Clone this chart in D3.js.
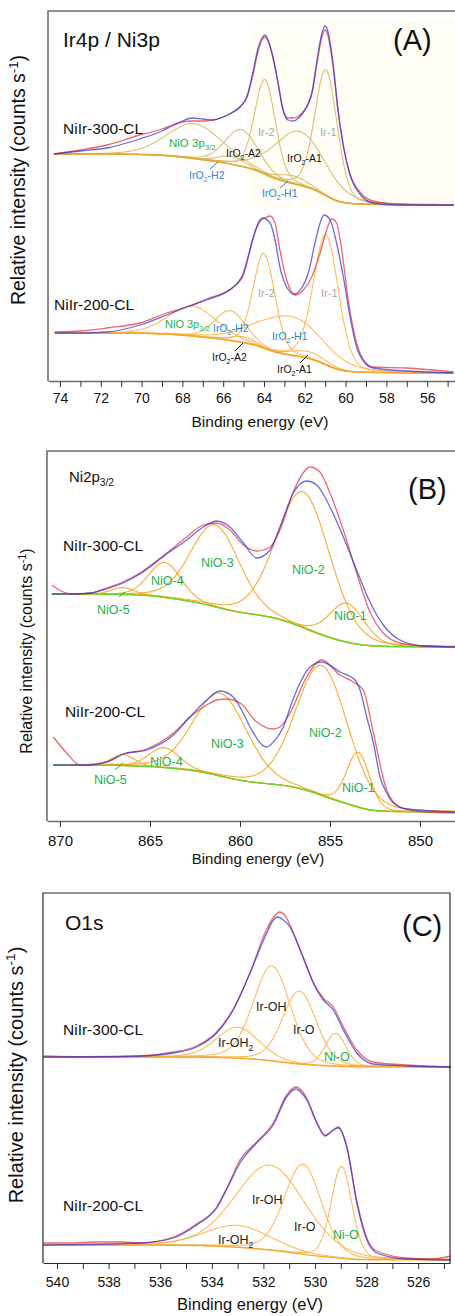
<!DOCTYPE html>
<html><head><meta charset="utf-8">
<script src="https://cdn.jsdelivr.net/npm/d3@7"></script>
<style>
html,body{margin:0;padding:0;background:#fff;}
svg{display:block;font-family:Arial,"Liberation Sans",Helvetica,sans-serif;}
</style></head><body>
<svg id="chart" width="455" height="1316"></svg>
<script>
// ===== Panel A: Ir4p / Ni3p =====
const ticksA = d3.range(55, 75);
const labelsA = [74, 72, 70, 68, 66, 64, 62, 60, 58, 56];
// [binding energy (eV), relative intensity]
const measA300 = [[74.3,227],[73.0,231],[71.7,236],[70.1,246],[69.0,252],[68.5,256],[68.0,259],[67.5,260],[67.0,260],[66.5,261],[66.0,264],[65.6,268],[65.18,274],[64.83,284],[64.54,306],[64.3,329],[64.1,341],[63.95,344],[63.78,339],[63.56,323],[63.31,298],[63.07,272],[62.82,263],[62.57,263],[62.3,265],[62.09,269],[61.85,277],[61.65,288],[61.4,318],[61.16,344],[61.0,351],[60.86,345],[60.6,312],[60.37,270],[60.13,238],[59.8,208],[59.3,189],[58.66,180],[57.5,177],[56,176],[54.7,176]];
const fitA300 = [[74.3,227],[73.0,230],[71.7,233],[70.1,242],[69.0,250],[68.5,255],[68.0,260],[67.5,263],[67.0,262],[66.5,261],[66.0,264],[65.6,268],[65.18,274],[64.83,285],[64.54,309],[64.3,332],[64.1,343],[63.95,346],[63.78,340],[63.56,324],[63.31,298],[63.07,271],[62.82,261],[62.57,260],[62.3,263],[62.09,268],[61.85,276],[61.65,288],[61.4,321],[61.16,348],[61.0,355],[60.86,349],[60.6,315],[60.37,271],[60.13,237],[59.8,207],[59.3,187],[58.66,178],[57.5,176],[56,176],[54.7,176]];
// [name, centre (eV), height, FWHM (eV)]
const peaksA300 = [["Ir-1",60.96,126,1.3],["Ir-2",63.95,95,1.2],["IrO2-A1",62.25,54,3.0],["IrO2-A2",65.1,37,1.9],["NiO 3p3/2",67.4,35,3.2],["IrO2-H2",65.6,8,1.6],["IrO2-H1",62.6,8,1.8]];
const bgA300 = [227, 176];

const measA200 = [[74.25,49],[73.0,50],[71.71,53],[70.08,58],[68.77,68],[67.79,74],[66.81,82],[65.5,94],[65.01,106],[64.52,144],[64.2,160],[63.95,163],[63.7,165],[63.46,158],[63.22,131],[62.89,101],[62.48,86],[62.07,91],[61.66,104],[61.25,128],[60.93,151],[60.68,162],[60.44,158],[60.19,131],[59.87,81],[59.46,38],[59.05,19],[58.64,14],[57.0,13],[54.72,9]];
const fitA200 = [[74.25,48],[73.0,48],[71.71,49],[70.08,56],[68.77,66],[67.79,74],[66.81,81],[65.5,94],[65.01,108],[64.69,131],[64.36,154],[64.07,163],[63.7,158],[63.46,141],[63.22,114],[62.89,94],[62.53,87],[62.15,93],[61.83,108],[61.5,138],[61.25,158],[61.06,166],[60.76,161],[60.44,138],[60.11,104],[59.78,64],[59.46,34],[59.05,18],[58.64,13],[57.0,10],[54.72,8]];
const peaksA200 = [["Ir-1",60.96,130,1.45],["Ir-2",64.0,95,1.25],["NiO 3p3/2",67.5,30,2.8],["IrO2-H2",65.65,30,1.8],["IrO2-H1",62.75,39,3.8],["IrO2-A2",65.0,6,1.5],["IrO2-A1",61.8,7,2.0]];
const bgA200 = [48, 8];

// ===== Panel B: Ni2p3/2 =====
const ticksB = [870, 865, 860, 855, 850];
const measB300 = [[870.46,236],[869.81,229],[869.26,227],[868.3,228],[867.41,233],[866.5,239],[865.56,248],[864.07,268],[862.96,284],[862.04,296],[861.3,298],[860.56,291],[859.81,276],[859.07,270],[858.33,274],[857.78,291],[857.04,329],[856.5,348],[856.11,354],[855.56,349],[855.0,328],[854.26,291],[853.52,248],[852.78,209],[852.04,188],[851.11,178],[849.81,175],[848.06,174]];
const fitB300 = [[870.44,227],[869.26,227],[868.3,228],[867.41,232],[866.5,238],[865.56,247],[864.07,267],[862.96,281],[862.04,294],[861.3,300],[860.56,294],[859.81,278],[859.07,263],[858.33,271],[857.78,294],[857.04,328],[856.3,340],[855.74,336],[855.0,314],[854.26,284],[853.52,251],[852.78,219],[852.04,196],[851.11,181],[849.81,175],[848.06,174]];
const peaksB300 = [["NiO-1",854.05,39,2.3],["NiO-2",856.48,136,3.5],["NiO-3",861.39,82,3.2],["NiO-4",864.17,35,2.1],["NiO-5",866.5,7,1.5]];
const bgB300 = [227, 174];

const measB200 = [[870.37,84],[869.63,68],[868.89,56],[867.41,59],[866.48,67],[865.19,72],[863.7,88],[862.78,104],[861.85,116],[861.3,121],[860.74,122],[860.0,118],[859.07,99],[858.15,92],[857.78,94],[857.22,108],[856.3,144],[855.46,161],[854.44,146],[853.7,139],[853.15,131],[852.59,88],[851.85,31],[851.11,14],[849.81,9],[848.06,8]];
const fitB200 = [[870.37,56],[868.33,56],[867.4,59],[866.48,67],[865.19,71],[863.7,86],[862.78,104],[861.85,121],[861.11,130],[860.37,124],[859.91,111],[859.44,94],[858.52,74],[858.15,79],[857.59,94],[857.13,118],[856.67,138],[856.11,154],[855.46,159],[854.44,149],[853.61,141],[853.33,131],[852.96,104],[852.59,78],[852.22,44],[851.85,28],[851.48,18],[850.74,12],[848.06,9]];
const peaksB200 = [["NiO-1",853.43,55,1.5],["NiO-2",855.45,130,3.4],["NiO-3",861.1,83,3.5],["NiO-4",864.2,20,2.0],["NiO-5",866.5,11,1.5]];
const bgB200 = [56, 9];

// ===== Panel C: O1s =====
const ticksC = d3.range(525, 541);
const labelsC = [540, 538, 536, 534, 532, 530, 528, 526];
const measC300 = [[540.53,207],[538.5,206],[536.78,207],[535.49,211],[534.59,217],[533.81,231],[533.17,254],[532.52,290],[531.87,334],[531.6,346],[531.36,351],[531.1,345],[530.97,338],[530.58,314],[530.32,297],[530.07,281],[529.68,265],[529.29,256],[528.9,236],[528.38,213],[527.74,201],[526.45,198],[524.73,196]];
const fitC300 = [[540.53,206],[536.78,207],[535.49,210],[534.59,216],[533.81,230],[533.17,253],[532.52,290],[531.87,330],[531.61,343],[531.46,346],[531.23,343],[530.97,336],[530.58,313],[530.32,296],[530.07,280],[529.68,263],[529.29,253],[528.9,233],[528.38,210],[527.74,199],[526.45,197],[524.73,196]];
const peaksC300 = [["Ir-OH",531.67,95,1.7],["Ir-O",530.6,73,1.55],["Ir-OH2",533.0,31,1.95],["Ni-O",529.2,33,0.95]];
const bgC300 = [206, 196];

const measC200 = [[540.53,20],[539.5,20],[538.5,21],[537.5,21],[536.78,20],[535.49,26],[534.59,39],[533.81,56],[533.36,78],[532.91,103],[532.26,121],[531.62,140],[531.1,168],[530.74,176],[530.5,172],[530.32,165],[529.93,141],[529.61,128],[529.29,133],[529.1,136],[528.77,117],[528.38,62],[527.99,25],[527.61,12],[526.45,5],[525.5,4],[524.73,7]];
const fitC200 = [[540.53,18],[536.78,20],[535.49,25],[534.59,38],[533.81,55],[533.36,77],[532.91,100],[532.26,120],[531.62,138],[531.1,166],[530.74,174],[530.32,163],[529.93,140],[529.61,127],[529.29,133],[529.1,135],[528.77,116],[528.38,60],[527.99,23],[527.61,10],[526.45,4],[524.73,3]];
const peaksC200 = [["Ir-OH",531.74,85,3.2],["Ir-O",530.47,90,1.7],["Ni-O",528.97,92,0.95],["Ir-OH2",533.0,22,3.0]];
const bgC200 = [18, 3];

// ---------------------------------------------------------------
const svg = d3.select("#chart");
const RED = "#e8414a", BLUE = "#3232d2";
const GREEN_TXT = "#22b04b", BLUE_TXT = "#2389d6", GRAY_TXT = "#a8a8a8";

// pseudo-Voigt line shape
function pv(e, c, h, w, eta) {
  const d = (e - c) / w;
  return h * ((1 - eta) * Math.exp(-4 * Math.LN2 * d * d) + eta / (1 + 4 * d * d));
}

// components on a Shirley background built from the summed peak area
function components(peaks, meas, bgEnds, eta) {
  const [eLo, eHi] = d3.extent(meas, d => d[0]);
  const grid = d3.range(eLo, eHi + 0.01, 0.02);
  const sum = grid.map(e => d3.sum(peaks, p => pv(e, p[1], p[2], p[3], eta)));
  const cum = d3.cumsum(sum);
  const area = cum[cum.length - 1];
  const bg = grid.map((e, i) => bgEnds[1] + (bgEnds[0] - bgEnds[1]) * cum[i] / area);
  return {
    bg: grid.map((e, i) => [e, bg[i]]),
    peaks: peaks.map(p => grid.map((e, i) => [e, bg[i] + pv(e, p[1], p[2], p[3], eta)]))
  };
}

function drawSpectrum(g, x, y, meas, fit, peaks, bgEnds, st) {
  const line = d3.line().x(d => x(d[0])).y(d => y(d[1]));
  const smooth = d3.line().x(d => x(d[0])).y(d => y(d[1])).curve(d3.curveMonotoneX);
  const c = components(peaks, meas, bgEnds, st.eta);
  g.append("g").selectAll("path").data(c.peaks).join("path")
    .attr("d", line).attr("fill", "none")
    .attr("stroke", st.peak).attr("stroke-width", 1.1).attr("stroke-opacity", st.peakOpacity);
  g.append("path").datum(c.bg).attr("d", line).attr("fill", "none")
    .attr("stroke", st.bg).attr("stroke-width", 1.3).attr("stroke-opacity", 0.95);
  g.append("path").datum(meas.slice().sort((a, b) => b[0] - a[0])).attr("d", smooth)
    .attr("fill", "none").attr("stroke", RED).attr("stroke-width", 1.3).attr("stroke-opacity", 0.8);
  g.append("path").datum(fit.slice().sort((a, b) => b[0] - a[0])).attr("d", smooth)
    .attr("fill", "none").attr("stroke", BLUE).attr("stroke-width", 1.3).attr("stroke-opacity", 0.72);
}

// text with optional sub/superscript runs
function rich(g, x, y, parts, size, color, anchor, rotate) {
  const t = g.append("text").attr("x", x).attr("y", y)
    .attr("font-size", size).attr("fill", color).attr("text-anchor", anchor || "start");
  if (rotate) t.attr("transform", `rotate(${rotate},${x},${y})`);
  let shift = 0;
  parts.forEach(p => {
    const kind = typeof p === "string" ? null : p[1];
    const txt = typeof p === "string" ? p : p[0];
    const target = kind === "sub" ? size * 0.28 : kind === "sup" ? -size * 0.38 : 0;
    t.append("tspan").attr("dy", target - shift)
      .attr("font-size", kind ? size * 0.68 : size).text(txt);
    shift = target;
  });
  return t;
}
function leader(g, x1, y1, x2, y2, color) {
  g.append("line").attr("x1", x1).attr("y1", y1).attr("x2", x2).attr("y2", y2)
    .attr("stroke", color).attr("stroke-width", 1);
}

function frame(g, left, top, bottom, right, color, width) {
  const p = right ? `M${right},${bottom}V${top}H${left}V${bottom}` : `M455,${top}H${left}V${bottom}`;
  g.append("path").attr("d", p).attr("fill", "none").attr("stroke", color).attr("stroke-width", width);
}

function bottomAxis(g, x, bottom, ticks, labels, fontSize, labelOffset, color, width) {
  const ax = d3.axisBottom(x).tickValues(ticks).tickSize(6).tickSizeOuter(0)
    .tickFormat(d => (labels ? labels.includes(d) : true) ? d : "");
  const a = g.append("g").attr("transform", `translate(0,${bottom})`).call(ax);
  a.select(".domain").attr("stroke", color).attr("stroke-width", width);
  a.selectAll(".tick line").attr("stroke", "#333").attr("stroke-width", 1);
  a.selectAll(".tick text").attr("font-size", fontSize).attr("fill", "#111")
    .attr("font-family", "Arial, 'Liberation Sans', sans-serif").attr("y", labelOffset);
}

const yTitle = ["Relative intensity (counts s", ["-1", "sup"], ")"];

// ---------------- Panel A ----------------
{
  const g = svg.append("g");
  const top = 11, bottom = 381;
  const x = d3.scaleLinear().domain([74.588, 54.637]).range([48, 455]);
  const y = d3.scaleLinear().domain([0, 370]).range([bottom, top]);
  g.append("rect").attr("x", 250).attr("y", 20).attr("width", 205).attr("height", 188)
    .attr("fill", "#fdfbee").attr("opacity", 0.55);
  drawSpectrum(g, x, y, measA300, fitA300, peaksA300, bgA300,
    { eta: 0.2, peak: "#d2b250", peakOpacity: 0.8, bg: "#f0a52c" });
  drawSpectrum(g, x, y, measA200, fitA200, peaksA200, bgA200,
    { eta: 0.2, peak: "#fbb040", peakOpacity: 0.85, bg: "#f6a428" });
  frame(g, 48, top, bottom, null, "#6e6e6e", 1.6);
  bottomAxis(g, x, bottom, ticksA, labelsA, 14, 12, "#6e6e6e", 1.6);
  rich(g, 63, 47, ["Ir4p / Ni3p"], 21, "#111");
  rich(g, 393, 50, ["(A)"], 29, "#111");
  rich(g, 260, 427, ["Binding energy (eV)"], 15.5, "#111", "middle");
  rich(g, 25, 180, yTitle, 19.5, "#111", "middle", -90);
  // NiIr-300-CL
  rich(g, 63, 134, ["NiIr-300-CL"], 15.5, "#111");
  rich(g, 169, 147, ["NiO 3p", ["3/2", "sub"]], 11.5, GREEN_TXT);
  rich(g, 226, 157, ["IrO", ["2", "sub"], "-A2"], 10.5, "#111");
  rich(g, 258, 136, ["Ir-2"], 11, GRAY_TXT);
  rich(g, 320, 136, ["Ir-1"], 11, GRAY_TXT);
  rich(g, 287, 162, ["IrO", ["2", "sub"], "-A1"], 10.5, "#111");
  rich(g, 189, 179, ["IrO", ["2", "sub"], "-H2"], 10.5, BLUE_TXT);
  leader(g, 210, 169, 218, 162, BLUE_TXT);
  rich(g, 262, 197, ["IrO", ["2", "sub"], "-H1"], 10.5, BLUE_TXT);
  leader(g, 280, 188, 288, 181, BLUE_TXT);
  // NiIr-200-CL
  rich(g, 54, 310, ["NiIr-200-CL"], 15.5, "#111");
  rich(g, 165, 328, ["NiO 3p", ["3/2", "sub"]], 11, GREEN_TXT);
  rich(g, 213, 332, ["IrO", ["2", "sub"], "-H2"], 10.5, BLUE_TXT);
  rich(g, 272, 340, ["IrO", ["2", "sub"], "-H1"], 10.5, BLUE_TXT);
  rich(g, 212, 361, ["IrO", ["2", "sub"], "-A2"], 10.5, "#111");
  leader(g, 235, 351, 243, 343, "#111");
  rich(g, 277, 373, ["IrO", ["2", "sub"], "-A1"], 10.5, "#111");
  leader(g, 300, 363, 308, 355, "#111");
  rich(g, 258, 297, ["Ir-2"], 11, GRAY_TXT);
  rich(g, 321, 297, ["Ir-1"], 11, GRAY_TXT);
}

// ---------------- Panel B ----------------
{
  const g = svg.append("g");
  const top = 451, bottom = 821;
  const x = d3.scaleLinear().domain([870.722, 848.056]).range([47, 455]);
  const y = d3.scaleLinear().domain([0, 370]).range([bottom, top]);
  drawSpectrum(g, x, y, measB300, fitB300, peaksB300, bgB300,
    { eta: 0.15, peak: "#f7a21b", peakOpacity: 0.9, bg: "#5cdc2c" });
  drawSpectrum(g, x, y, measB200, fitB200, peaksB200, bgB200,
    { eta: 0.15, peak: "#f7a21b", peakOpacity: 0.9, bg: "#5cdc2c" });
  frame(g, 47, top, bottom, null, "#6e6e6e", 1.6);
  bottomAxis(g, x, bottom, ticksB, null, 15, 14, "#6e6e6e", 1.6);
  rich(g, 69, 482, ["Ni2p", ["3/2", "sub"]], 15, "#111");
  rich(g, 408, 499, ["(B)"], 29, "#111");
  rich(g, 258, 864, ["Binding energy (eV)"], 15, "#111", "middle");
  rich(g, 32, 651, yTitle, 16, "#111", "middle", -90);
  rich(g, 63, 551, ["NiIr-300-CL"], 15.5, "#111");
  rich(g, 97, 614, ["NiO-5"], 12.5, GREEN_TXT);
  leader(g, 119, 597, 125, 592, GREEN_TXT);
  rich(g, 151, 585, ["NiO-4"], 12.5, GREEN_TXT);
  rich(g, 201, 567, ["NiO-3"], 12.5, GREEN_TXT);
  rich(g, 292, 574, ["NiO-2"], 12.5, GREEN_TXT);
  rich(g, 334, 620, ["NiO-1"], 12.5, GREEN_TXT);
  rich(g, 65, 717, ["NiIr-200-CL"], 15.5, "#111");
  rich(g, 94, 784, ["NiO-5"], 12.5, GREEN_TXT);
  leader(g, 115, 770, 123, 763, GREEN_TXT);
  rich(g, 150, 766, ["NiO-4"], 12.5, GREEN_TXT);
  rich(g, 211, 748, ["NiO-3"], 12.5, GREEN_TXT);
  rich(g, 309, 737, ["NiO-2"], 12.5, GREEN_TXT);
  rich(g, 342, 792, ["NiO-1"], 12.5, GREEN_TXT);
}

// ---------------- Panel C ----------------
{
  const g = svg.append("g");
  const top = 893, bottom = 1263;
  const x = d3.scaleLinear().domain([540.543, 524.767]).range([43, 450]);
  const y = d3.scaleLinear().domain([0, 370]).range([bottom, top]);
  drawSpectrum(g, x, y, measC300, fitC300, peaksC300, bgC300,
    { eta: 0.2, peak: "#fbb040", peakOpacity: 0.85, bg: "#f6a428" });
  drawSpectrum(g, x, y, measC200, fitC200, peaksC200, bgC200,
    { eta: 0.2, peak: "#fbb040", peakOpacity: 0.85, bg: "#f6a428" });
  frame(g, 43, top, bottom, 450, "#2a2a2a", 1.2);
  bottomAxis(g, x, bottom, ticksC, labelsC, 14, 14, "#2a2a2a", 1.2);
  rich(g, 65, 930, ["O1s"], 21, "#111");
  rich(g, 402, 936, ["(C)"], 29, "#111");
  rich(g, 250, 1310, ["Binding energy (eV)"], 16.5, "#111", "middle");
  rich(g, 23, 1075, yTitle, 20, "#111", "middle", -90);
  rich(g, 63, 1035, ["NiIr-300-CL"], 15.5, "#111");
  rich(g, 256, 1011, ["Ir-OH"], 12.5, "#222");
  rich(g, 293, 1034, ["Ir-O"], 12.5, "#222");
  rich(g, 218, 1047, ["Ir-OH", ["2", "sub"]], 12.5, "#222");
  rich(g, 324, 1061, ["Ni-O"], 12.5, GREEN_TXT);
  rich(g, 63, 1211, ["NiIr-200-CL"], 15.5, "#111");
  rich(g, 252, 1204, ["Ir-OH"], 12.5, "#222");
  rich(g, 294, 1231, ["Ir-O"], 12.5, "#222");
  rich(g, 218, 1244, ["Ir-OH", ["2", "sub"]], 12.5, "#222");
  rich(g, 333, 1239, ["Ni-O"], 12.5, GREEN_TXT);
}
</script>
</body></html>
